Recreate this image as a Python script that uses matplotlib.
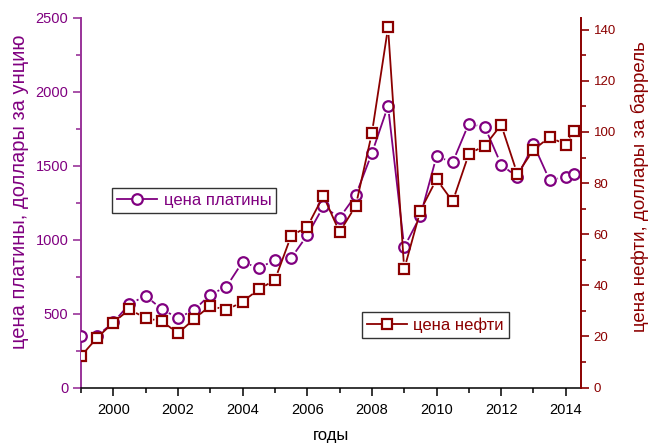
import numpy as np
import matplotlib
matplotlib.use("Agg")
import matplotlib.pyplot as plt
from matplotlib.collections import LineCollection
from matplotlib.lines import Line2D
from matplotlib.ticker import MultipleLocator

plt.rcParams['font.family'] = ['Liberation Sans', 'DejaVu Sans']

years = [1999, 1999.5, 2000, 2000.5, 2001, 2001.5, 2002, 2002.5, 2003, 2003.5,
         2004, 2004.5, 2005, 2005.5, 2006, 2006.5, 2007, 2007.5, 2008, 2008.5,
         2009, 2009.5, 2010, 2010.5, 2011, 2011.5, 2012, 2012.5, 2013, 2013.5,
         2014, 2014.25]
platinum = [350, 350, 440, 565, 620, 530, 470, 525, 628, 682,
            850, 808, 862, 875, 1030, 1225, 1148, 1300, 1585, 1905,
            950, 1160, 1564, 1524, 1786, 1760, 1508, 1423, 1645, 1402,
            1426, 1442]
oil = [12.3, 19.5, 25.4, 30.6, 27.1, 26.0, 21.2, 26.8, 32.0, 30.3,
       33.6, 38.4, 42.1, 59.3, 62.9, 75.0, 60.8, 71.1, 99.5, 140.9,
       46.3, 69.2, 81.5, 72.8, 91.4, 94.7, 102.8, 83.6, 93.0, 98.0,
       95.0, 100.4]
x_ticks = [2000, 2002, 2004, 2006, 2008, 2010, 2012, 2014]

xlabel = 'годы'
ylabel_left = 'цена платины, доллары за унцию'
ylabel_right = 'цена нефти, доллары за баррель'
label_pt = 'цена платины'
label_oil = 'цена нефти'

PURPLE = '#800080'
PURPLE_AX = '#993399'
RED = '#8B0000'

fig = plt.figure(figsize=(6.52, 4.43), dpi=100)
ax1 = fig.add_axes([81/652, 1-387.5/443, 500/652, 369.5/443])
ax2 = ax1.twinx()

ax1.set_xlim(1999, 2014.47)
ax1.set_ylim(0, 2500)
ax2.set_ylim(0, 144.6)


def gap_line(ax, x, y, gap_px, color, lw):
    trans = ax.transData
    pts = trans.transform(np.column_stack([x, y]))
    inv = trans.inverted()
    segs = []
    for p0, p1 in zip(pts[:-1], pts[1:]):
        d = p1 - p0
        L = np.hypot(*d)
        if L <= 2 * gap_px + 0.5:
            continue
        u = d / L
        a = p0 + u * gap_px
        b = p1 - u * gap_px
        segs.append(inv.transform(np.array([a, b])))
    ax.add_collection(LineCollection(segs, colors=color, linewidths=lw,
                                     capstyle='butt', zorder=2))


gap_line(ax1, years, platinum, 8.0, PURPLE, 1.3)
ax1.plot(years, platinum, linestyle='none', marker='o', ms=7.6,
         mfc='white', mec=PURPLE, mew=1.6, zorder=3)

gap_line(ax2, years, oil, 7.5, RED, 1.3)
ax2.plot(years, oil, linestyle='none', marker='s', ms=6.8,
         mfc='white', mec=RED, mew=1.6, zorder=3)

# axes styling
for sp in ['top', 'right']:
    ax1.spines[sp].set_visible(False)
ax1.spines['left'].set_color(PURPLE_AX)
ax1.spines['left'].set_linewidth(1.4)
ax1.spines['bottom'].set_color('black')
ax1.spines['bottom'].set_linewidth(1.1)
for sp in ['top', 'left', 'bottom']:
    ax2.spines[sp].set_visible(False)
ax2.spines['right'].set_color(RED)
ax2.spines['right'].set_linewidth(1.4)

ax1.set_xticks(x_ticks)
ax1.xaxis.set_minor_locator(MultipleLocator(1))
ax1.yaxis.set_major_locator(MultipleLocator(500))
ax1.yaxis.set_minor_locator(MultipleLocator(250))
ax2.yaxis.set_major_locator(MultipleLocator(20))
ax2.yaxis.set_minor_locator(MultipleLocator(10))

ax1.tick_params(axis='x', which='major', direction='out', length=6, width=1.1,
                colors='black', labelsize=10.5, pad=5)
ax1.tick_params(axis='x', which='minor', direction='out', length=3.5, width=1.1,
                colors='black')
ax1.tick_params(axis='y', which='major', direction='out', length=6, width=1.2,
                color=PURPLE_AX, labelcolor=PURPLE, labelsize=10.5, pad=3)
ax1.tick_params(axis='y', which='minor', direction='out', length=3.5, width=1.2,
                color=PURPLE_AX)
ax2.tick_params(axis='y', which='major', direction='out', length=6, width=1.2,
                color=RED, labelcolor=RED, labelsize=9.5, pad=3)
ax2.tick_params(axis='y', which='minor', direction='out', length=3.5, width=1.2,
                color=RED)

ax1.set_xlabel(xlabel, fontsize=12, color='black', labelpad=8)
ax1.set_ylabel(ylabel_left, fontsize=14.5, color=PURPLE, labelpad=5)
ax1.yaxis.label.set_y(0.53)
ax2.set_ylabel(ylabel_right, fontsize=13.5, color=RED, labelpad=11)
ax2.yaxis.label.set_y(0.545)

h1 = Line2D([], [], color=PURPLE, lw=1.3, marker='o', ms=7.6, mfc='white',
            mec=PURPLE, mew=1.6)
h2 = Line2D([], [], color=RED, lw=1.3, marker='s', ms=6.8, mfc='white',
            mec=RED, mew=1.6)
leg_kw = dict(loc='upper left', fontsize=12, frameon=True, fancybox=False,
              framealpha=1, edgecolor='#333333', handlelength=2.4,
              handletextpad=0.4, borderpad=0.3, borderaxespad=0, numpoints=1)
leg1 = ax2.legend([h1], [label_pt], bbox_to_anchor=(0.062, 0.540), **leg_kw)
for t in leg1.get_texts():
    t.set_color(PURPLE)
leg1.get_frame().set_linewidth(1.0)
ax2.add_artist(leg1)
leg2 = ax2.legend([h2], [label_oil], bbox_to_anchor=(0.561, 0.204), **leg_kw)
for t in leg2.get_texts():
    t.set_color(RED)
leg2.get_frame().set_linewidth(1.0)

fig.savefig('out.png', dpi=100)
